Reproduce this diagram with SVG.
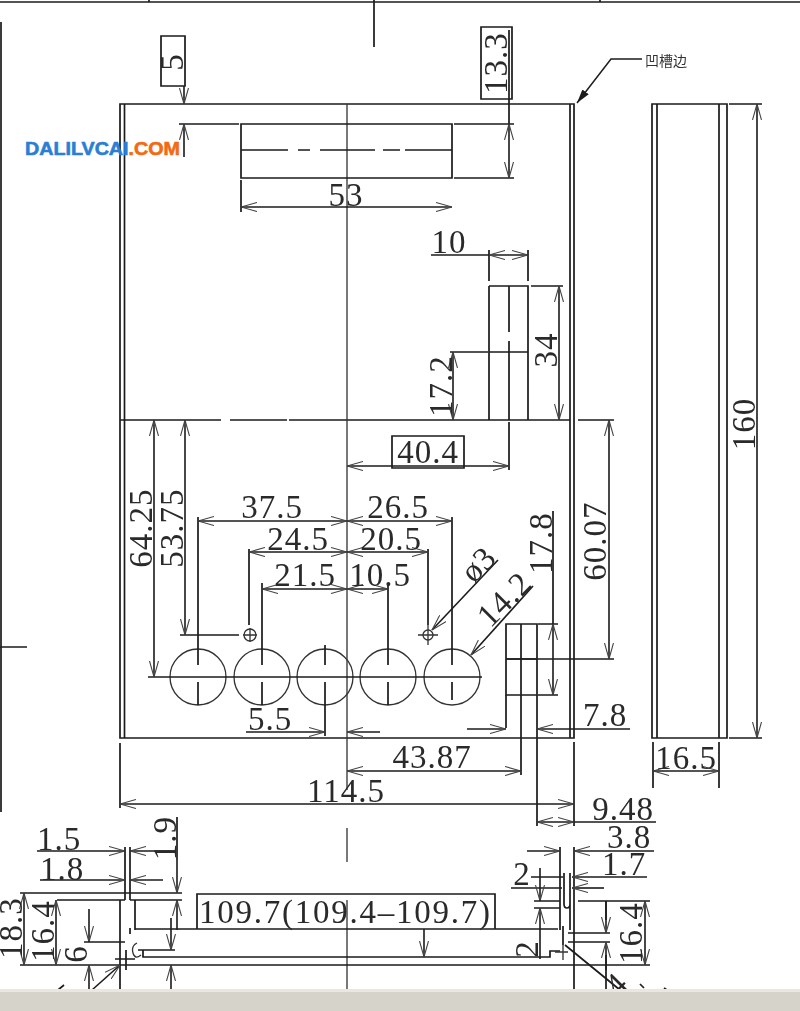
<svg xmlns="http://www.w3.org/2000/svg" width="800" height="1011" viewBox="0 0 800 1011">
<style>
.l{fill:none;stroke:#1c1c1c;stroke-width:1.7}
.c{fill:none;stroke:#333;stroke-width:1.3}
.d{fill:none;stroke:#1c1c1c;stroke-width:1.6;marker-start:url(#a);marker-end:url(#a)}
.e{fill:none;stroke:#1c1c1c;stroke-width:1.6;marker-end:url(#a)}
.t{font-family:"Liberation Serif",serif;font-size:33px;letter-spacing:1px;fill:#2a2a2a;text-anchor:middle}
.w{font-family:"Liberation Sans",sans-serif;font-size:18.500px;font-weight:bold;stroke-width:0.6}
</style>
<defs>
<marker id="a" viewBox="0 0 16 10" refX="16" refY="5" markerWidth="16" markerHeight="10" markerUnits="userSpaceOnUse" orient="auto-start-reverse"><path d="M0,0.5L16,5L0,9.5" fill="none" stroke="#444" stroke-width="1.1"/></marker>
<marker id="f" viewBox="0 0 14 8" refX="14" refY="4" markerWidth="14" markerHeight="8" markerUnits="userSpaceOnUse" orient="auto"><path d="M0,0L14,4L0,8Z" fill="#1c1c1c"/></marker>
<filter id="s" x="0" y="0" width="100%" height="100%"><feGaussianBlur stdDeviation="0.3"/></filter>
</defs>
<rect width="800" height="1011" fill="#fff"/>
<g filter="url(#s)">
<g id="frame">
<path class="l" d="M0,2H800M149,0V2M600,0V2M374,0V47M1,22V812M0,647H27"/>
</g>
<g id="front-view">
<path class="l" d="M120,104H574V738H120ZM124.500,104V738M570,104V738"/>
<path class="l" d="M120,420H221M230,420H287M289,420H570"/>
<path class="c" d="M347,104V790M347,828V862M347,900V990"/>
<path id="slot" class="l" d="M241,124H452V178H241ZM241,150H288M298,150H310M320,150H375M383,150H400M405,150H452"/>
<path id="notch" class="l" d="M489,286H528V420M489,286V420M489,352H528M509,286V332M509,341V420"/>
<g id="holes" class="c">
<circle cx="198" cy="677" r="28"/><circle cx="262" cy="677" r="28"/><circle cx="325" cy="677" r="28"/><circle cx="388" cy="677" r="28"/><circle cx="452" cy="677" r="28"/>
<circle cx="250" cy="635" r="6"/><circle cx="428" cy="635" r="5"/>
<path d="M243,635H257M250,628V642M418,635H438M428,625V645"/>
</g>
<path class="l" d="M148,677H482"/>
<path id="tab" class="l" d="M506,624H537V695H506ZM506,659H537M521,624V695"/>
</g>
<g id="side-view">
<path class="l" d="M652,104H727V738H652ZM657,104V738M719,104V738"/>
</g>
<g id="section">
<path class="l" d="M20,893H182M125,847V900M130,847V900M57,900H125M130,900H182M120,900V990M135,900V930M130,928V934M574,847V990M560,847V930M564,873V904Q564,908 567,908T570,904V873M570,900V930M563,926V945M197,894H495V929H197ZM135,929H558M138,950H175M143,950V957H550V951H560M20,965H574M115,959H135M126,950V970"/>
<path class="c" d="M137,943Q131,946 133,953T141,955M555,952H568M563,945V960"/>
</g>
<g id="connectors">
<path class="l" d="M179,124H239M241,180V212M454,124H514M454,178H514M489,250V281M528,250V281M531,286H563M450,352H488M509,422V470M578,420H614M506,659H614M180,635H239M538,624H558M538,695H558M198,517V665M198,682V705M262,583V665M262,682V705M325,645V665M325,682V736M388,583V665M388,682V705M452,517V665M452,682V700M249,549V625M428,549V625M506,695V728M537,695V826M521,695V775M120,743V808M574,742V826M653,742V788M719,742V788M729,104H762M729,738H762M509,30V124"/>
<path class="e" d="M184,86V104"/>
<path class="e" d="M184,157V124"/>
<path class="d" d="M509,124V178"/>
<path class="d" d="M241,207H452"/>
<path class="d" d="M489,255H528"/><path class="l" d="M431,255H489"/>
<path class="d" d="M559,286V420"/>
<path class="d" d="M453,352V420"/>
<path class="d" d="M347,466H509"/>
<path class="d" d="M609,420V659"/>
<path class="d" d="M154,420V677"/>
<path class="d" d="M185,420V635"/>
<path class="d" d="M198,521H347"/><path class="d" d="M347,521H452"/>
<path class="d" d="M249,552H347"/><path class="d" d="M347,552H428"/>
<path class="d" d="M262,589H347"/><path class="d" d="M347,589H388"/>
<path class="e" d="M498,560L432,630"/>
<path class="e" d="M533,586L471,655"/>
<path class="d" d="M553,624V695"/><path class="l" d="M553,511V624"/>
<path class="e" d="M246,732H325"/><path class="e" d="M380,732H347"/>
<path class="e" d="M467,729H506"/><path class="e" d="M630,729H537"/>
<path class="d" d="M347,771H521"/>
<path class="d" d="M120,804H574"/>
<path class="d" d="M537,822H574"/><path class="l" d="M574,822H656"/>
<path class="d" d="M653,771H719"/>
<path class="d" d="M757,104V738"/>
<path d="M642,59H611L577,103" fill="none" stroke="#1c1c1c" stroke-width="1.5" marker-end="url(#f)"/>
<path class="e" d="M37,851H125"/><path class="e" d="M175,851H130"/><path class="e" d="M40,880H125"/><path class="e" d="M163,880H130"/>
<path class="l" d="M177,817V860"/><path class="e" d="M177,860V893"/>
<path class="d" d="M24,893V965"/><path class="d" d="M56,900V965"/>
<path class="e" d="M89,909V942"/><path class="l" d="M84,942H125"/><path class="e" d="M89,990V965"/>
<path class="e" d="M92,990L120,965"/><path class="l" d="M58,990L64,985"/>
<path class="e" d="M177,930V900"/><path class="e" d="M171,918V950"/><path class="e" d="M171,990V965"/>
<path class="e" d="M424,929V957"/>
<path class="e" d="M527,851H560"/><path class="e" d="M654,851H574"/>
<path class="l" d="M531,877H563M511,888H562"/>
<path class="e" d="M647,877H572"/><path class="e" d="M604,888H572"/>
<path class="e" d="M540,868V901"/><path class="l" d="M534,901H560M534,908H560"/><path class="e" d="M540,959V908"/>
<path class="l" d="M578,901H650M574,965H650"/>
<path class="d" d="M645,901V965"/>
<path class="l" d="M568,933H610M568,942H610M606,901V920M606,955V990"/>
<path class="e" d="M606,901V933"/><path class="e" d="M606,970V942"/>
<path class="l" d="M565,945L620,990M640,984L644,988M664,988L667,990"/>
<path class="l" d="M161,36H185V86H161ZM481,27H512V99H481ZM392,436H464V468H392Z"/>
</g>
<g id="labels">
<text class="t" transform="translate(183,62) rotate(-90)">5</text>
<text class="t" transform="translate(507,63) rotate(-90)">13.3</text>
<text x="346" y="206" class="t">53</text>
<text x="449" y="253" class="t">10</text>
<text class="t" transform="translate(557,350) rotate(-90)">34</text>
<text class="t" transform="translate(452,386) rotate(-90)">17.2</text>
<text x="428" y="463" class="t">40.4</text>
<text class="t" transform="translate(152,528) rotate(-90)">64.25</text>
<text class="t" transform="translate(183,528) rotate(-90)">53.75</text>
<text class="t" transform="translate(606,541) rotate(-90)">60.07</text>
<text class="t" transform="translate(552,543) rotate(-90)">17.8</text>
<text x="272" y="518" class="t">37.5</text>
<text x="398" y="518" class="t">26.5</text>
<text x="298" y="550" class="t">24.5</text>
<text x="391" y="550" class="t">20.5</text>
<text x="305" y="586" class="t">21.5</text>
<text x="380" y="586" class="t">10.5</text>
<text class="t" transform="translate(486,572) rotate(-45)">ø3</text>
<text class="t" transform="translate(512,607) rotate(-45)">14.2</text>
<text x="270" y="730" class="t">5.5</text>
<text x="605" y="726" class="t">7.8</text>
<text x="432" y="768" class="t">43.87</text>
<text x="346" y="802" class="t">114.5</text>
<text x="623" y="820" class="t">9.48</text>
<text x="629" y="848" class="t">3.8</text>
<text x="624" y="875" class="t">1.7</text>
<text x="522" y="885" class="t">2</text>
<text x="686" y="769" class="t">16.5</text>
<text class="t" transform="translate(755,424) rotate(-90)">160</text>
<text x="59" y="850" class="t">1.5</text>
<text x="62" y="880" class="t">1.8</text>
<text class="t" transform="translate(176,838) rotate(-90)">1.9</text>
<text class="t" transform="translate(22,928) rotate(-90)">18.3</text>
<text class="t" transform="translate(54,931) rotate(-90)">16.4</text>
<text class="t" transform="translate(87,954) rotate(-90)">6</text>
<text x="345" y="923" class="t" textLength="292" lengthAdjust="spacing">109.7(109.4–109.7)</text>
<text class="t" transform="translate(538,949) rotate(-90)">2</text>
<text class="t" transform="translate(642,933) rotate(-90)">16.4</text>
<text class="t" transform="translate(624,992) rotate(-45)">4</text>
<text x="645" y="66" style="font-family:'Noto Sans CJK SC',sans-serif;font-size:14px;fill:#333">凹槽边</text>
</g>
</g>
<g id="watermark"><text x="25" y="155" class="w" textLength="155" lengthAdjust="spacingAndGlyphs"><tspan fill="#2a7fd4" stroke="#2a7fd4">DALILVCAI</tspan><tspan fill="#f26a12" stroke="#f26a12">.COM</tspan></text></g>
<g id="toolbar"><rect y="989" width="800" height="22" fill="#d6d3cb"/><rect y="989" width="800" height="3" fill="#e9e7e0"/></g>
</svg>
